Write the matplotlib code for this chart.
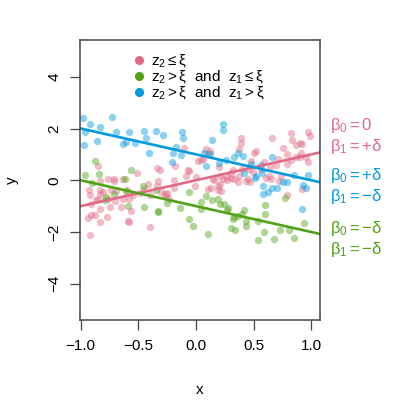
import matplotlib.pyplot as plt
from matplotlib.lines import Line2D
import numpy as np

plt.rcParams['font.family'] = ['Liberation Sans', 'DejaVu Sans']
plt.rcParams['mathtext.fontset'] = 'custom'
plt.rcParams['mathtext.rm'] = 'Liberation Sans'
plt.rcParams['mathtext.it'] = 'Liberation Sans'
plt.rcParams['mathtext.fallback'] = 'stixsans'

# group colours (HCL "Dark 3")
pink = '#E16A86'
green = '#50A315'
blue = '#009ADE'

# true coefficients per group, delta = 1
delta = 1.0
b0_pink, b1_pink = 0.0, delta
b0_blue, b1_blue = delta, -delta
b0_green, b1_green = -delta, -delta

# points
pink_x = [-0.85, -0.51, -0.34, -0.31, -0.33, -0.76, -0.71, -0.71, -0.63, -0.83,
          -0.93, -0.92, -0.91, -0.87, -0.83, -0.81, -0.83, -0.85, -0.74, -0.76,
          -0.70, -0.63, -0.58, -0.65, -0.56, -0.83, -0.88, -0.91, -0.94, -0.77,
          -0.83, -0.92, -0.59, -0.58, -0.40, -0.42, -0.49, -0.40, -0.30, -0.27,
          -0.26, -0.19, -0.19, -0.18, -0.10, -0.09, -0.07, -0.06, 0.00, 0.02,
          -0.01, -0.75, -0.69, -0.60, -0.55, -0.45, -0.34, -0.25, -0.23,
          0.04, 0.09, 0.12, 0.10, 0.06, 0.20, 0.21, 0.27, 0.32, 0.30,
          0.37, 0.39, 0.39, 0.50, 0.52, 0.48, 0.46, 0.45, 0.43, 0.47,
          0.36, 0.33, 0.27, 0.23, 0.21, 0.19, 0.15, 0.13, 0.10, 0.19,
          0.22, 0.59, 0.64, 0.63, 0.65, 0.61, 0.72, 0.74, 0.66, 0.75,
          0.79, 0.82, 0.83, 0.87, 0.90, 0.92, 0.97, 0.99, 0.95, 0.97,
          0.79, 0.82, 0.87, 0.90, 0.91, 0.92, 0.79, 0.69, 0.71, 0.56,
          0.49, 0.40, 0.37, 0.30, 0.16]
pink_y = [0.54, 0.27, 0.49, 0.40, -0.04, 0.03, 0.03, -0.04, 0.04, -0.04,
          -0.36, -0.58, -0.90, -0.77, -0.39, -0.45, -0.55, -0.72, -0.37, -0.74,
          -0.79, -0.74, -0.72, -1.05, -1.17, -1.12, -1.34, -1.33, -1.45, -1.41,
          -1.63, -2.13, -1.57, -1.63, -1.82, -0.14, -0.49, -0.58, -0.45, -0.52,
          -0.62, -0.30, 0.00, 0.54, 1.26, 0.17, 0.41, 0.35, 0.14, 0.74,
          -0.23, -1.05, -0.43, -0.39, -0.58, -0.34, -0.23, -0.49, -0.74,
          0.77, 1.19, 1.14, 1.03, 0.84, 0.52, 0.18, 0.13, 0.39, 0.28,
          1.19, 1.45, 1.65, 1.07, 1.14, 0.75, 0.43, 0.03, -0.04, -0.06,
          -0.08, 0.03, 0.00, 0.05, -0.15, -0.21, 0.05, -0.28, -0.32, -0.39,
          -0.41, 0.71, 0.52, 0.15, 0.04, 0.08, -0.03, 0.15, 1.65, 1.23,
          1.03, 1.81, 1.55, 1.35, 1.45, 1.39, 1.87, 1.70, 0.90, 0.71,
          0.61, 0.80, 0.90, 0.90, 1.06, -0.32, -0.58, 0.58, 0.84, 0.45,
          0.32, 0.45, 0.18, 0.10, 0.00]

green_x = [-0.88, -0.96, -0.84, -0.56, -0.62, -0.46, -0.78, -0.79, -0.71, -0.61,
           -0.59, -0.45, -0.33, -0.33, -0.25, -0.14, -0.06, -0.06, -0.03, -0.35,
           -0.90, 0.09, 0.04, 0.14, 0.04, 0.21, 0.24, 0.28, 0.27, 0.33,
           0.36, 0.32, 0.40, 0.42, 0.43, 0.43, 0.30, 0.34, 0.54, 0.60,
           0.60, 0.59, 0.54, 0.68, 0.73, 0.81, 0.85, 0.94, 0.77, 0.10,
           0.19]
green_y = [0.75, 0.19, 0.25, 0.41, 0.04, -0.23, -0.65, -0.75, -0.55, -0.41,
           -0.98, -1.03, -1.20, -1.24, -0.86, -1.07, -0.46, -1.48, -1.75, -0.39,
           -0.10, -0.62, -0.84, -0.77, -1.10, -0.90, -0.90, -1.06, -1.16, -1.42,
           -1.39, -1.48, -1.32, -1.14, -1.57, -1.78, -1.85, -1.94, -1.57, -0.97,
           -1.32, -2.01, -2.30, -2.26, -1.94, -1.94, -2.23, -1.65, -0.68, -2.09,
           -0.72]

blue_x = [-0.98, -0.73, -0.92, -0.96, -0.83, -0.97, -0.86, -0.69, -0.58, -0.45,
          -0.35, -0.29, -0.43, -0.63, -0.61, -0.53, -0.12, -0.11, -0.41, -0.17,
          -0.20, -0.13, -0.21, 0.23, 0.23, 0.14, 0.07, 0.12, 0.09, 0.20,
          0.26, 0.33, 0.36, 0.41, 0.48, 0.56, 0.66, 0.58, 0.62, 0.58,
          0.66, 0.70, 0.42, 0.51, 0.57, 0.75, 0.79, 0.85, 0.97, 0.95,
          0.92, 0.93, 0.52]
blue_y = [2.41, 2.43, 2.17, 1.87, 2.06, 1.38, 1.52, 1.87, 1.85, 1.92,
          1.92, 1.75, 1.63, 1.41, 1.48, 1.45, 1.85, 1.64, 1.07, 1.29,
          1.07, 0.97, 0.72, 2.18, 1.95, 1.55, 1.06, 1.03, 0.55, 0.65,
          0.77, 0.88, 1.06, 0.95, 0.62, 0.58, 0.90, -0.21, -0.44, -0.55,
          -0.30, -0.30, 0.28, 0.09, 0.28, -0.06, -0.06, 0.19, 0.19, -0.28,
          -1.12, -0.17, 0.15]

fig = plt.figure(figsize=(4, 4), dpi=100)
ax = fig.add_axes([0.2, 0.2, 0.6, 0.7])

ax.scatter(pink_x, pink_y, s=28, color=pink, alpha=0.45, linewidths=0)
ax.scatter(green_x, green_y, s=28, color=green, alpha=0.45, linewidths=0)
ax.scatter(blue_x, blue_y, s=28, color=blue, alpha=0.45, linewidths=0)

# true regression lines across the whole panel
xl = (-1.006, 1.075)
xx = np.array(xl)
ax.plot(xx, b0_pink + b1_pink * xx, color=pink, lw=1.9)
ax.plot(xx, b0_blue + b1_blue * xx, color=blue, lw=1.9)
ax.plot(xx, b0_green + b1_green * xx, color=green, lw=1.9)

ax.set_xlim(xl)
ax.set_ylim(-5.4, 5.42)
ax.set_xticks([-1.0, -0.5, 0.0, 0.5, 1.0])
ax.set_yticks([-4, -2, 0, 2, 4])
ax.set_xticklabels(['\u22121.0', '\u22120.5', '0.0', '0.5', '1.0'])
ax.set_yticklabels(['\u22124', '\u22122', '0', '2', '4'], rotation=90, va='center')
for sp in ax.spines.values():
    sp.set_color('#444444')
    sp.set_linewidth(1.1)
ax.tick_params(length=7.5, width=0.9, color='#444444', labelsize=11, pad=6)
ax.set_xlabel('x', fontsize=11)
ax.set_ylabel('y', fontsize=11)
ax.xaxis.set_label_coords(0.5, -0.225)
ax.yaxis.set_label_coords(-0.255, 0.5)

handles = [Line2D([], [], ls='none', marker='o', ms=5.5, color=c) for c in (pink, green, blue)]
labels = [r'$z_2 \leq \xi$',
          r'$z_2 > \xi$  and  $z_1 \leq \xi$',
          r'$z_2 > \xi$  and  $z_1 > \xi$']
ax.legend(handles, labels, loc='upper left', bbox_to_anchor=(0.15, 1.01), frameon=False,
          fontsize=11, handlelength=1.0, handletextpad=0.3, labelspacing=-0.05,
          borderpad=0.5)

# coefficient notes in the right margin
fs = 12
fig.text(0.825, 0.66, r'$\beta_0 = 0$' + '\n' + r'$\beta_1 = +\delta$',
         color=pink, fontsize=fs, va='center', linespacing=1.15)
fig.text(0.825, 0.536, r'$\beta_0 = +\delta$' + '\n' + r'$\beta_1 = -\delta$',
         color=blue, fontsize=fs, va='center', linespacing=1.15)
fig.text(0.825, 0.403, r'$\beta_0 = -\delta$' + '\n' + r'$\beta_1 = -\delta$',
         color=green, fontsize=fs, va='center', linespacing=1.15)

fig.savefig('out.png', dpi=100)
